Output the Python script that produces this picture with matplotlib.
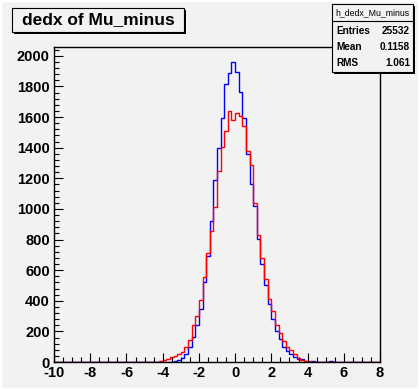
import numpy as np
import matplotlib
matplotlib.use("Agg")
import matplotlib.pyplot as plt
from matplotlib.patches import Rectangle
from matplotlib.ticker import MultipleLocator

plt.rcParams['font.family'] = ['Liberation Sans', 'DejaVu Sans']
plt.rcParams['axes.unicode_minus'] = False

W, H = 419, 389
BG = '#f2f2f2'

# histogram binning: 90 bins of 0.2 from -10 to 8
xlo, xhi, bw = -10.0, 8.0, 0.2

# blue: h_dedx_Mu_minus  (lower bin edge -> entries)
blue_lo = [-4.6, -4.0, -3.6, -3.4, -3.2, -3.0, -2.8, -2.6, -2.4, -2.2, -2.0,
           -1.8, -1.6, -1.4, -1.2, -1.0, -0.8, -0.6, -0.4, -0.2, 0.0, 0.2,
           0.4, 0.6, 0.8, 1.0, 1.2, 1.4, 1.6, 1.8, 2.0, 2.2, 2.4, 2.6, 2.8,
           3.0, 3.2, 3.4, 3.6, 3.8, 4.0, 4.2, 4.4, 5.2, 5.4, 6.2]
blue_n = [1, 2, 3, 5, 10, 26, 52, 100, 165, 245, 345,
          520, 690, 920, 1186, 1398, 1595, 1817, 1885, 1960, 1892, 1762,
          1593, 1359, 1160, 1019, 803, 640, 500, 381, 284, 200, 150, 100, 70,
          50, 30, 18, 18, 8, 3, 6, 2, 5, 2, 3]

# red: second sample
red_lo = [-6.6, -5.4, -5.0, -4.8, -4.6, -4.4, -4.2, -4.0, -3.8, -3.6, -3.4,
          -3.2, -3.0, -2.8, -2.6, -2.4, -2.2, -2.0, -1.8, -1.6, -1.4, -1.2,
          -1.0, -0.8, -0.6, -0.4, -0.2, 0.0, 0.2, 0.4, 0.6, 0.8, 1.0, 1.2,
          1.4, 1.6, 1.8, 2.0, 2.2, 2.4, 2.6, 2.8, 3.0, 3.2, 3.4, 3.6, 3.8,
          4.0, 4.4, 6.6]
red_n = [1, 1, 2, 3, 2, 3, 5, 10, 20, 30, 40,
         52, 67, 95, 143, 240, 301, 407, 554, 710, 857, 1013,
         1247, 1405, 1506, 1640, 1580, 1630, 1608, 1539, 1377, 1284, 1040, 830,
         680, 540, 414, 330, 240, 190, 140, 100, 80, 50, 24, 15, 8,
         4, 2, 1]

stats_name = "h_dedx_Mu_minus"
stats_rows = [("Entries", "25532"), ("Mean", "0.1158"), ("RMS", "1.061")]
title = "dedx of Mu_minus"

nb = int(round((xhi - xlo) / bw))
edges = np.linspace(xlo, xhi, nb + 1)


def fill(lo, n):
    h = np.zeros(nb)
    for x, c in zip(lo, n):
        h[int(round((x - xlo) / bw))] = c
    return h


hb = fill(blue_lo, blue_n)
hr = fill(red_lo, red_n)


def fx(x):
    return x / W


def fy(y):
    return 1 - y / H


fig = plt.figure(figsize=(W / 100, H / 100), dpi=100, facecolor=BG)

# thin light canvas border
fig.patches.append(Rectangle((0, 0), 1, 1, transform=fig.transFigure,
                             facecolor='none', edgecolor='white', lw=2.5,
                             zorder=0))

# plot frame in pixels
L, R, T, B = 54, 380, 47, 362
ax = fig.add_axes([fx(L), fy(B), (R - L) / W, (B - T) / H])
ax.set_facecolor(BG)
ax.stairs(hb, edges, color='#0000ff', lw=1.0)
ax.stairs(hr, edges, color='#ff0000', lw=1.0)
ax.set_xlim(xlo, xhi)
ax.set_ylim(0, 1.05 * hb.max())

ax.xaxis.set_major_locator(MultipleLocator(2))
ax.xaxis.set_minor_locator(MultipleLocator(0.5))
ax.yaxis.set_major_locator(MultipleLocator(200))
ax.yaxis.set_minor_locator(MultipleLocator(40))
ax.tick_params(which='both', direction='in', top=False, right=False,
               width=0.8, colors='black')
ax.tick_params(which='major', length=6.5, labelsize=10.5)
ax.tick_params(axis='x', which='major', pad=3)
ax.tick_params(axis='y', which='major', pad=3)
ax.tick_params(which='minor', length=3.5)
for lab in ax.get_xticklabels() + ax.get_yticklabels():
    lab.set_fontweight('bold')
for s in ax.spines.values():
    s.set_linewidth(1.0)
    s.set_color('black')


def box(x0, y0, x1, y1, sh=2):
    fig.patches.append(Rectangle((fx(x0 + sh), fy(y1 + sh)), (x1 - x0) / W, (y1 - y0) / H,
                                 transform=fig.transFigure, facecolor='black',
                                 edgecolor='none', zorder=5))
    fig.patches.append(Rectangle((fx(x0), fy(y1)), (x1 - x0) / W, (y1 - y0) / H,
                                 transform=fig.transFigure, facecolor=BG,
                                 edgecolor='black', lw=0.8, zorder=6))


# title box
box(12, 8, 184, 32)
fig.text(fx(98), fy(20), title, ha='center', va='center', fontsize=12.5,
         fontweight='bold', zorder=7)

# stats box
box(332, 4, 413, 72)
fig.add_artist(plt.Line2D([fx(332), fx(413)], [fy(21), fy(21)],
                          color='black', lw=0.8, zorder=7))
fig.text(fx(372.5), fy(12.5), stats_name, ha='center', va='center',
         fontsize=6.3, zorder=7)
for i, (k, v) in enumerate(stats_rows):
    yy = fy(30.5 + 16 * i)
    fig.text(fx(336), yy, k, ha='left', va='center', fontsize=7.2,
             fontweight='bold', zorder=7)
    fig.text(fx(410), yy, v, ha='right', va='center', fontsize=7.2,
             fontweight='bold', zorder=7)

fig.savefig("out.png", dpi=100, facecolor=BG)
